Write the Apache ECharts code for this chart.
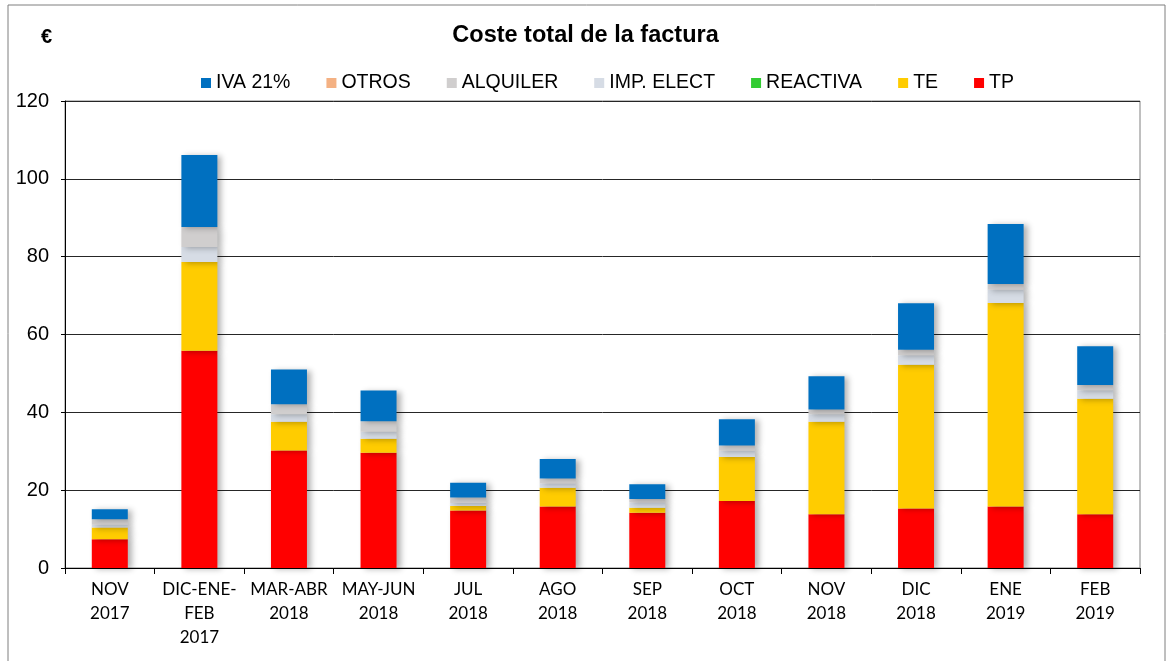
<!DOCTYPE html>
<html><head><meta charset="utf-8">
<script src="https://cdn.jsdelivr.net/npm/echarts@6/dist/echarts.min.js"></script>
<style>html,body{margin:0;padding:0;background:#fff}#c{width:1171px;height:661px}</style>
</head><body><div id="c"></div>
<script>
const categories = ['NOV\n2017','DIC-ENE-\nFEB\n2017','MAR-ABR\n2018','MAY-JUN\n2018','JUL\n2018','AGO\n2018','SEP\n2018','OCT\n2018','NOV\n2018','DIC\n2018','ENE\n2019','FEB\n2019'];
const TP       = [7.4, 55.8, 30.2, 29.6, 14.8, 15.8, 14.2, 17.2, 13.8, 15.3, 15.8, 13.8];
const TE       = [3.0, 22.8, 7.4, 3.6, 1.1, 4.8, 1.3, 11.3, 23.8, 36.9, 52.3, 29.7];
const REACTIVA = [0,0,0,0,0,0,0,0,0,0,0,0];
const IMP      = [0.7, 3.9, 1.9, 1.8, 0.8, 1.1, 1.3, 1.6, 1.9, 2.5, 3.4, 2.2];
const ALQUILER = [1.4, 5.1, 2.6, 2.7, 1.4, 1.3, 0.9, 1.4, 1.2, 1.4, 1.5, 1.3];
const OTROS    = [0,0,0,0,0,0,0,0,0,0,0,0];
const IVA      = [2.6, 18.5, 8.9, 7.9, 3.8, 5.0, 3.8, 6.7, 8.6, 11.9, 15.4, 10.0];
const yTicks = {min:0, max:120, interval:20};

const chart = echarts.init(document.getElementById('c'), null, {renderer:'canvas'});
const shadow = {shadowColor:'rgba(0,0,0,0.3)', shadowBlur:6, shadowOffsetX:4, shadowOffsetY:1};
function s(name, data, color){
  return {name, type:'bar', stack:'t', data, barWidth:36,
    itemStyle:Object.assign({color}, shadow), emphasis:{disabled:true}};
}
chart.setOption({
  animation:false,
  title:{text:'Coste total de la factura', left:'center', top:19,
    textStyle:{fontFamily:'Liberation Sans', fontWeight:'bold', fontSize:23.5, color:'#000'}},
  graphic:[
    {type:'rect', shape:{x:8,y:5,width:1157,height:700}, style:{fill:'none', stroke:'#7f7f7f', lineWidth:1}},
    {type:'text', left:41, top:27, style:{text:'€', fontFamily:'Liberation Sans', fontWeight:'bold', fontSize:20, fill:'#000'}}
  ],
  legend:{left:196, top:68, itemWidth:10, itemHeight:10, itemGap:36,
    data:['IVA 21%','OTROS','ALQUILER','IMP. ELECT','REACTIVA','TE','TP'],
    textStyle:{fontFamily:'Liberation Sans', fontSize:19.5, color:'#000', padding:[0,0,0,0]},
    icon:'rect'},
  grid:{left:65, right:31, top:101, bottom:93, show:true, borderColor:'#808080', borderWidth:1},
  xAxis:{type:'category', data:categories,
    axisLine:{lineStyle:{color:'#000', width:1}},
    axisTick:{show:true, length:6, lineStyle:{color:'#000'}},
    axisLabel:{interval:0, fontFamily:'Lato', fontSize:17, color:'#000', lineHeight:24, margin:10}},
  yAxis:{type:'value', min:yTicks.min, max:yTicks.max, interval:yTicks.interval,
    axisLine:{show:true, lineStyle:{color:'#000'}},
    axisTick:{show:true, length:4, lineStyle:{color:'#000'}},
    splitLine:{lineStyle:{color:'#262626', width:1}},
    axisLabel:{fontFamily:'Liberation Sans', fontSize:20, color:'#000', margin:16}},
  series:[
    s('TP', TP, '#FF0000'),
    s('TE', TE, '#FFCC00'),
    s('REACTIVA', REACTIVA, '#33CC33'),
    s('IMP. ELECT', IMP, '#D6DCE5'),
    s('ALQUILER', ALQUILER, '#D0CECE'),
    s('OTROS', OTROS, '#F4B183'),
    s('IVA 21%', IVA, '#0070C0')
  ]
});
</script></body></html>
